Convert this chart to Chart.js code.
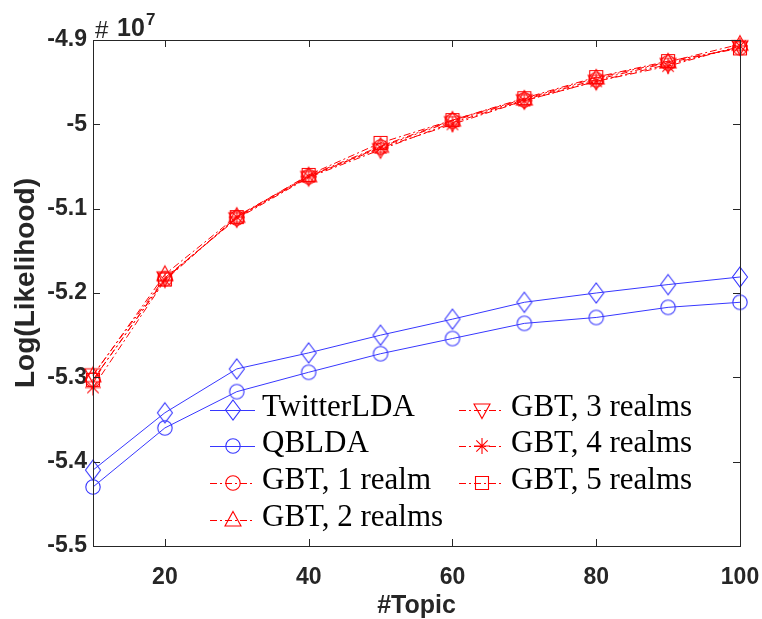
<!DOCTYPE html>
<html>
<head>
<meta charset="utf-8">
<script src="https://cdn.jsdelivr.net/npm/chart.js@4.4.1/dist/chart.umd.min.js"></script>
<style>
  body { margin: 0; background: #fff; }
  canvas { display: block; }
</style>
</head>
<body>
<canvas id="likelihood_chart" width="762" height="619"></canvas>
<script>
// values are in units of 1e7
const topics = [10, 20, 30, 40, 50, 60, 70, 80, 90, 100];
const twitterLda = [-5.410, -5.342, -5.290, -5.271, -5.250, -5.231, -5.211, -5.200, -5.190, -5.181];
const qblda      = [-5.430, -5.360, -5.317, -5.294, -5.272, -5.254, -5.236, -5.229, -5.217, -5.211];
const gbt1 = [-5.303, -5.183, -5.111, -5.062, -5.027, -4.996, -4.971, -4.947, -4.927, -4.909];
const gbt2 = [-5.298, -5.178, -5.109, -5.061, -5.026, -4.995, -4.970, -4.945, -4.926, -4.905];
const gbt3 = [-5.297, -5.182, -5.112, -5.063, -5.030, -4.998, -4.972, -4.949, -4.929, -4.908];
const gbt4 = [-5.312, -5.185, -5.110, -5.062, -5.028, -5.000, -4.972, -4.949, -4.931, -4.907];
const gbt5 = [-5.303, -5.184, -5.110, -5.060, -5.022, -4.995, -4.969, -4.944, -4.925, -4.910];
const xTicks = [20, 40, 60, 80, 100];
const yTicks = [-5.5, -5.4, -5.3, -5.2, -5.1, -5.0, -4.9];

const BLUE = 'rgb(55,55,255)';
const RED = 'rgb(255,0,0)';
const AXIS = '#262626';
const DASHDOT = [7, 3, 2, 3];

// little canvases used as point styles (matlab-like markers)
function makeMarker(kind, color) {
    const s = 26;
    const c = document.createElement('canvas');
    c.width = s; c.height = s;
    const g = c.getContext('2d');
    const m = s / 2;
    g.strokeStyle = color;
    g.lineWidth = 1.1;
    g.beginPath();
    if (kind === 'diamond') {
        g.moveTo(m, m - 10); g.lineTo(m + 7.5, m); g.lineTo(m, m + 10); g.lineTo(m - 7.5, m); g.closePath();
    } else if (kind === 'circle') {
        g.arc(m, m, 7.2, 0, Math.PI * 2);
    } else if (kind === 'triUp') {
        g.moveTo(m, m - 8.5); g.lineTo(m + 8, m + 6); g.lineTo(m - 8, m + 6); g.closePath();
    } else if (kind === 'triDown') {
        g.moveTo(m, m + 8.5); g.lineTo(m + 8, m - 6); g.lineTo(m - 8, m - 6); g.closePath();
    } else if (kind === 'square') {
        g.rect(m - 6.5, m - 6.5, 13, 13);
    } else if (kind === 'star') {
        g.moveTo(m - 8, m); g.lineTo(m + 8, m);
        g.moveTo(m, m - 8); g.lineTo(m, m + 8);
        g.moveTo(m - 5.7, m - 5.7); g.lineTo(m + 5.7, m + 5.7);
        g.moveTo(m - 5.7, m + 5.7); g.lineTo(m + 5.7, m - 5.7);
    }
    g.stroke();
    return c;
}

const series = [
    {label: 'TwitterLDA',     data: twitterLda, color: BLUE, marker: makeMarker('diamond', BLUE), dash: []},
    {label: 'QBLDA',          data: qblda,      color: BLUE, marker: makeMarker('circle', BLUE),  dash: []},
    {label: 'GBT, 1 realm',   data: gbt1,       color: RED,  marker: makeMarker('circle', RED),   dash: DASHDOT},
    {label: 'GBT, 2 realms',  data: gbt2,       color: RED,  marker: makeMarker('triUp', RED),    dash: DASHDOT},
    {label: 'GBT, 3 realms',  data: gbt3,       color: RED,  marker: makeMarker('triDown', RED),  dash: DASHDOT},
    {label: 'GBT, 4 realms',  data: gbt4,       color: RED,  marker: makeMarker('star', RED),     dash: DASHDOT},
    {label: 'GBT, 5 realms',  data: gbt5,       color: RED,  marker: makeMarker('square', RED),   dash: DASHDOT}
];

// legend slots, two columns like matlab's NumColumns=2
const legendSlots = [
    {x: 210, y: 410}, {x: 210, y: 446}, {x: 210, y: 483}, {x: 210, y: 520},
    {x: 459, y: 410}, {x: 459, y: 446}, {x: 459, y: 483}
];

const likelihood_data = {
    datasets: series.map(s => ({
        label: s.label,
        data: topics.map((t, i) => ({x: t, y: s.data[i]})),
        borderColor: s.color,
        borderWidth: 1,
        borderDash: s.dash,
        pointStyle: s.marker,
        pointRadius: 8,
        tension: 0,
        fill: false,
        clip: false
    }))
};

const matlabAxes = {
    id: 'matlabAxes',
    afterDraw(chart) {
        const ctx = chart.ctx;
        const a = chart.chartArea;
        const xs = chart.scales.x, ys = chart.scales.y;
        ctx.save();
        ctx.strokeStyle = AXIS;
        ctx.lineWidth = 1;
        ctx.strokeRect(Math.round(a.left) + 0.5, Math.round(a.top) + 0.5,
            Math.round(a.right - a.left), Math.round(a.bottom - a.top));
        ctx.beginPath();
        xTicks.forEach(v => {
            const px = Math.round(xs.getPixelForValue(v)) + 0.5;
            ctx.moveTo(px, a.bottom); ctx.lineTo(px, a.bottom - 7);
            ctx.moveTo(px, a.top); ctx.lineTo(px, a.top + 7);
        });
        yTicks.forEach(v => {
            const py = Math.round(ys.getPixelForValue(v)) + 0.5;
            ctx.moveTo(a.left, py); ctx.lineTo(a.left + 7, py);
            ctx.moveTo(a.right, py); ctx.lineTo(a.right - 7, py);
        });
        ctx.stroke();

        // axis titles + exponent
        ctx.fillStyle = AXIS;
        ctx.textAlign = 'center';
        ctx.textBaseline = 'alphabetic';
        ctx.font = 'bold 25px "Liberation Sans", Arial, sans-serif';
        ctx.fillText('#Topic', (a.left + a.right) / 2, 613);
        ctx.save();
        ctx.translate(34, 283);
        ctx.rotate(-Math.PI / 2);
        ctx.font = 'bold 28px "Liberation Sans", Arial, sans-serif';
        ctx.fillText('Log(Likelihood)', 0, 0);
        ctx.restore();
        ctx.textAlign = 'left';
        ctx.font = '24px "Liberation Sans", Arial, sans-serif';
        ctx.fillText('#', 95, 38);
        ctx.font = 'bold 25px "Liberation Sans", Arial, sans-serif';
        ctx.fillText('10', 117, 36);
        ctx.font = 'bold 17px "Liberation Sans", Arial, sans-serif';
        ctx.fillText('7', 146, 25);

        // legend
        ctx.font = '31px "Liberation Serif", "Times New Roman", serif';
        ctx.fillStyle = '#000';
        ctx.textBaseline = 'alphabetic';
        series.forEach((s, i) => {
            const slot = legendSlots[i];
            ctx.strokeStyle = s.color;
            ctx.setLineDash(s.dash);
            ctx.beginPath();
            ctx.moveTo(slot.x, slot.y + 0.5);
            ctx.lineTo(slot.x + 45, slot.y + 0.5);
            ctx.stroke();
            ctx.setLineDash([]);
            ctx.drawImage(s.marker, slot.x + 23 - s.marker.width / 2, slot.y - s.marker.height / 2);
            ctx.fillText(s.label, slot.x + 52, slot.y + 6);
        });
        ctx.restore();
    }
};

const likelihood_config = {
    type: 'line',
    data: likelihood_data,
    options: {
        responsive: false,
        animation: false,
        devicePixelRatio: 1,
        layout: {padding: {left: 0, right: 22, top: 40, bottom: 0}},
        plugins: {
            legend: {display: false},
            title: {display: false},
            tooltip: {enabled: false}
        },
        scales: {
            x: {
                type: 'linear',
                min: 10,
                max: 100,
                afterBuildTicks: scale => { scale.ticks = xTicks.map(v => ({value: v})); },
                afterFit: scale => {
                    scale.height = 73;
                    scale.paddingLeft = 0;
                    scale.paddingRight = 0;
                },
                grid: {display: false, drawTicks: false},
                border: {display: false},
                ticks: {
                    color: AXIS,
                    padding: 18,
                    maxRotation: 0,
                    font: {family: '"Liberation Sans", Arial, sans-serif', size: 23, weight: 'bold'}
                }
            },
            y: {
                type: 'linear',
                min: -5.5,
                max: -4.9,
                afterBuildTicks: scale => { scale.ticks = yTicks.map(v => ({value: v})); },
                afterFit: scale => {
                    scale.width = 93;
                    scale.paddingTop = 0;
                    scale.paddingBottom = 0;
                },
                grid: {display: false, drawTicks: false},
                border: {display: false},
                ticks: {
                    color: AXIS,
                    padding: 6,
                    callback: v => String(Number(v.toFixed(1))),
                    font: {family: '"Liberation Sans", Arial, sans-serif', size: 23, weight: 'bold'}
                }
            }
        }
    },
    plugins: [matlabAxes]
};

const likelihood_chart = new Chart(
    document.getElementById('likelihood_chart'),
    likelihood_config
);
</script>
</body>
</html>
